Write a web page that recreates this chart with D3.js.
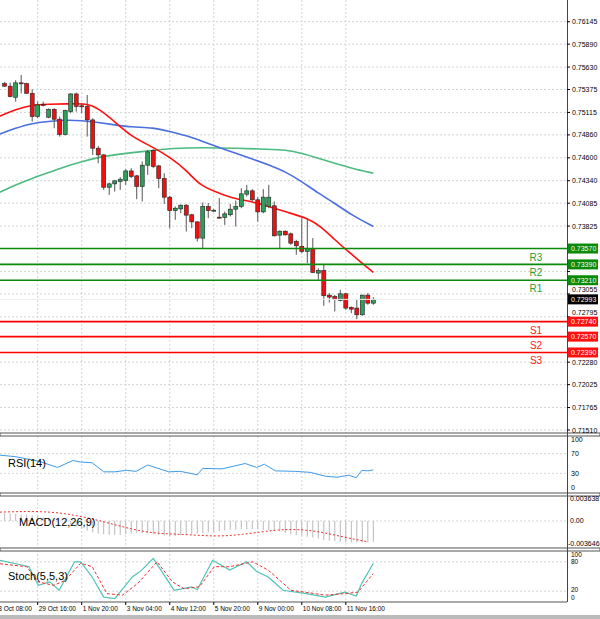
<!DOCTYPE html>
<html>
<head>
<meta charset="utf-8">
<script src="https://cdn.jsdelivr.net/npm/d3@7"></script>
<style>
body { margin: 0; background: #fff; }
text { font-family: "Liberation Sans", Arial, sans-serif; }
</style>
</head>
<body>
<svg id="canvas"></svg>
<script>
var width = 600,
	height = 619;

// candles, one per 4h bar
var opens  = [0.75443,0.75413,0.75287,0.75451,0.75443,0.75332,0.75068,0.75208,0.75061,0.75151,0.75038,0.74863,0.75125,0.75325,0.75190,0.75182,0.75030,0.74709,0.74633,0.74266,0.74304,0.74330,0.74342,0.74451,0.74395,0.74274,0.74516,0.74682,0.74508,0.74365,0.74153,0.74001,0.74020,0.74062,0.73953,0.73873,0.73688,0.74047,0.74001,0.73926,0.73922,0.73953,0.74017,0.74047,0.74187,0.74225,0.74123,0.73986,0.74047,0.74055,0.73722,0.73767,0.73737,0.73650,0.73594,0.73537,0.73571,0.73291,0.73321,0.73041,0.73026,0.72981,0.73056,0.72901,0.72894,0.72818,0.73041,0.72950];
var highs  = [0.75462,0.75451,0.75481,0.75540,0.75451,0.75378,0.75238,0.75238,0.75160,0.75162,0.75068,0.75145,0.75332,0.75340,0.75219,0.75313,0.75049,0.74735,0.74640,0.74319,0.74350,0.74380,0.74470,0.74482,0.74406,0.74557,0.74690,0.74697,0.74520,0.74425,0.74168,0.74047,0.74070,0.74077,0.73964,0.73877,0.74093,0.74085,0.74020,0.74142,0.73990,0.74077,0.74115,0.74255,0.74293,0.74244,0.74153,0.74244,0.74293,0.74104,0.73775,0.73775,0.73752,0.73669,0.73915,0.73915,0.73688,0.73347,0.73385,0.73064,0.73045,0.73101,0.73064,0.72913,0.72988,0.73045,0.73064,0.73018];
var lows   = [0.75405,0.75287,0.75238,0.75332,0.75328,0.75011,0.75049,0.75182,0.75050,0.74936,0.74841,0.74855,0.75106,0.75125,0.75106,0.74841,0.74633,0.74538,0.74236,0.74179,0.74217,0.74236,0.74293,0.74368,0.74130,0.74104,0.74406,0.74482,0.74255,0.74077,0.73801,0.73896,0.73971,0.73763,0.73801,0.73650,0.73574,0.73915,0.73990,0.73915,0.73839,0.73934,0.73820,0.74028,0.74160,0.74104,0.73877,0.73971,0.74028,0.73707,0.73574,0.73718,0.73612,0.73499,0.73518,0.73404,0.73291,0.73215,0.72920,0.72958,0.72856,0.72969,0.72875,0.72837,0.72769,0.72807,0.72932,0.72932];
var closes = [0.75413,0.75295,0.75451,0.75447,0.75332,0.75068,0.75200,0.75204,0.75151,0.75038,0.74863,0.75136,0.75325,0.75182,0.75185,0.75030,0.74709,0.74633,0.74266,0.74304,0.74338,0.74357,0.74451,0.74387,0.74274,0.74516,0.74667,0.74501,0.74365,0.74153,0.74001,0.74028,0.74062,0.73949,0.73873,0.73688,0.74047,0.74001,0.74005,0.73922,0.73964,0.74017,0.74047,0.74191,0.74225,0.74123,0.73986,0.74153,0.74153,0.73714,0.73767,0.73725,0.73631,0.73601,0.73537,0.73571,0.73298,0.73321,0.73034,0.73019,0.72996,0.73056,0.72894,0.72882,0.72818,0.73041,0.72950,0.72993];

// moving averages read at [bar, value]
var maFast = [[-1,0.75068],[2,0.75151],[5,0.75200],[8,0.75208],[11,0.75211],[15,0.75219],[17,0.75162],[20,0.75011],[23,0.74841],[27,0.74720],[30,0.74606],[33,0.74463],[35.5,0.74281],[39,0.74198],[42,0.74130],[45,0.74104],[48,0.74047],[51.5,0.73979],[55,0.73915],[57.5,0.73820],[60,0.73669],[62.4,0.73537],[65,0.73404],[67,0.73298]];
var maMid  = [[-1,0.74868],[2,0.74936],[5,0.74993],[8,0.75012],[11,0.75031],[14,0.75023],[17,0.75001],[20,0.74974],[23,0.74948],[27,0.74944],[30,0.74899],[33,0.74853],[36,0.74785],[39,0.74717],[42,0.74653],[45,0.74586],[48,0.74518],[51,0.74444],[54,0.74330],[57,0.74198],[60,0.74085],[63,0.73952],[67,0.73820]];
var maSlow = [[-1,0.74206],[2,0.74293],[5,0.74368],[8,0.74432],[11,0.74501],[14,0.74557],[17,0.74606],[20,0.74633],[23,0.74659],[27,0.74682],[30,0.74705],[33,0.74712],[36,0.74716],[42,0.74709],[48,0.74697],[51,0.74690],[54,0.74652],[57,0.74595],[60,0.74538],[63,0.74482],[67,0.74425]];

var levelNames  = ["R3","R2","R1","S1","S2","S3"];
var levelValues = [0.73570,0.73390,0.73210,0.72740,0.72570,0.72390];
var lastPrice = 0.72993;

var priceTicks = [0.76145,0.75890,0.75630,0.75375,0.75115,0.74860,0.74600,0.74340,0.74085,0.73825,0.73310,0.73055,0.72795,0.72280,0.72025,0.71765,0.71510];

var rsi = [[-0.85,67],[1.9,64],[6.1,55],[9.6,42],[12.4,56],[13.8,53],[15.9,51.5],[18,33],[20,33],[22.1,36],[23.9,34],[26,47],[29.8,33],[31.9,34],[35,27],[36,40],[39.5,39],[43.7,50],[45.8,42],[47.2,48.5],[49.2,35],[52.7,34],[55.5,32],[58.3,24],[60.4,22],[62.5,26],[63.9,21],[64.9,36],[66,35],[67,37]];

var macdMain = [0.0012,0.0012,0.0011,0.0010,0.0010,0.0009,0.0008,0.0006,0.0004,0.0002,0.0,-0.0003,-0.0006,-0.0009,-0.0012,-0.0015,-0.0018,-0.0020,-0.0021,-0.0022,-0.0022,-0.0022,-0.0021,-0.0020,-0.0019,-0.0019,-0.0020,-0.0021,-0.0022,-0.0023,-0.0024,-0.0024,-0.0023,-0.0022,-0.0021,-0.0020,-0.0019,-0.0018,-0.0017,-0.0016,-0.0015,-0.0014,-0.0014,-0.0013,-0.0013,-0.0013,-0.0013,-0.0014,-0.0015,-0.0016,-0.0017,-0.0019,-0.0021,-0.0022,-0.0023,-0.0025,-0.0026,-0.0028,-0.0030,-0.0031,-0.0032,-0.0033,-0.0034,-0.0034,-0.0034,-0.0034,-0.0034,-0.0033];
var macdSignal = [[-0.85,0.0014],[2.6,0.0015],[8.2,0.0015],[13.1,0.0009],[18,-0.0001],[22.1,-0.0011],[27,-0.0020],[32.6,-0.0021],[38.8,-0.0025],[43.7,-0.0021],[49.3,-0.0014],[52.7,-0.0013],[56.9,-0.0016],[61.8,-0.0026],[66,-0.0033]];

var stochMain = [[-0.85,83],[3.3,73],[4.4,70],[6.1,32],[8.2,39],[9.9,22],[12.7,80],[13.8,80],[15.9,49],[18,8],[20,5],[23.2,49],[24.9,63],[27,87],[28.4,63],[30.8,22],[34,29],[35,23],[37.8,83],[40.9,63],[44,80],[45.8,60],[47.9,49],[50.6,22],[54.8,15],[58.3,8],[61.8,18],[63.9,10],[64.9,36],[67,77]];
var stochSignal = [[-0.85,76],[4,70],[6.1,39],[8.9,32],[11,42],[13.8,77],[15.9,70],[18.6,15],[21.4,12],[24.2,36],[27.7,80],[30.5,39],[32.6,25],[35.4,29],[38.1,70],[40.9,70],[45.1,80],[47.9,63],[52,22],[58.3,12],[61.8,15],[64.2,18],[67,56]];

var dateTicks  = [-2,6,14,22,30,38,46,54,62];
var dateLabels = ["28 Oct 08:00","29 Oct 16:00","1 Nov 20:00","3 Nov 04:00","4 Nov 12:00","5 Nov 20:00","9 Nov 00:00","10 Nov 08:00","11 Nov 16:00"];

var svg = d3.select("#canvas")
		.attr("width", width)
		.attr("height", height);

var plotRight = 567;
var x = d3.scaleLinear().domain([-0.85, 102.2]).range([0, plotRight]);
var y = d3.scaleLinear().domain([0.71510, 0.76145]).range([430, 21.7]);
var yRsi = d3.scaleLinear().domain([0, 100]).range([488, 439]);
var yMacd = d3.scaleLinear().domain([-0.003646, 0.003638]).range([544, 498]);
var ySto = d3.scaleLinear().domain([0, 100]).range([601, 552]);

var panels = [[0, 433], [436, 493], [495, 548], [550, 602]];

// grid
var grid = svg.append("g")
	.attr("stroke", "#d4d4d4")
	.attr("stroke-dasharray", "2,2")
	.attr("stroke-width", 1);
panels.forEach(function(p){
	dateTicks.forEach(function(t){
		grid.append("line").attr("x1", x(t)).attr("x2", x(t)).attr("y1", p[0]).attr("y2", p[1]);
	});
});
priceTicks.forEach(function(t){
	grid.append("line").attr("x1", 0).attr("x2", plotRight).attr("y1", y(t)).attr("y2", y(t));
});
[30, 70].forEach(function(t){
	grid.append("line").attr("x1", 0).attr("x2", plotRight).attr("y1", yRsi(t)).attr("y2", yRsi(t));
});
[20, 80].forEach(function(t){
	grid.append("line").attr("x1", 0).attr("x2", plotRight).attr("y1", ySto(t)).attr("y2", ySto(t));
});
grid.append("line").attr("x1", 0).attr("x2", plotRight).attr("y1", yMacd(0)).attr("y2", yMacd(0));

// panel separators
[433, 493, 548].forEach(function(v){
	svg.append("rect").attr("x", 0).attr("y", v).attr("width", width).attr("height", 3).attr("fill", "#fff").attr("stroke", "#555").attr("stroke-width", 1);
});
svg.append("line").attr("x1", 0).attr("x2", plotRight).attr("y1", 602).attr("y2", 602).attr("stroke", "#555");
svg.append("line").attr("x1", plotRight + 0.5).attr("x2", plotRight + 0.5).attr("y1", 0).attr("y2", 602).attr("stroke", "#444");

// moving averages
var maLine = d3.line()
	.x(function(d){ return x(d[0]); })
	.y(function(d){ return y(d[1]); })
	.curve(d3.curveBasis);
[[maSlow, "#4cbb7f"], [maMid, "#4a6fe0"], [maFast, "#ff1010"]].forEach(function(m){
	svg.append("path").attr("d", maLine(m[0])).attr("fill", "none").attr("stroke", m[1]).attr("stroke-width", 1.6);
});

// candles
var candle = svg.selectAll("g.candle")
		.data(opens)
		.enter()
		.append("g");
candle.append("line")
	.attr("x1", function(d, i){ return x(i); })
	.attr("x2", function(d, i){ return x(i); })
	.attr("y1", function(d, i){ return y(highs[i]); })
	.attr("y2", function(d, i){ return y(lows[i]); })
	.attr("stroke", "#555");
candle.append("rect")
	.attr("x", function(d, i){ return x(i) - 2; })
	.attr("width", 4)
	.attr("y", function(d, i){ return y(Math.max(d, closes[i])); })
	.attr("height", function(d, i){ return Math.max(1, Math.abs(y(d) - y(closes[i]))); })
	.attr("fill", function(d, i){ return closes[i] >= d ? "#2e9e5b" : "#ee1111"; })
	.attr("stroke", "#222")
	.attr("stroke-width", 0.6);

// pivot levels
levelValues.forEach(function(v, i){
	var col = i < 3 ? "#0a8a0a" : "#ff0000";
	svg.append("line").attr("x1", 0).attr("x2", plotRight).attr("y1", y(v)).attr("y2", y(v)).attr("stroke", col).attr("stroke-width", 1.6);
	svg.append("text").attr("x", 536).attr("y", y(v) + 12).attr("text-anchor", "middle")
		.attr("font-size", 10).attr("fill", i < 3 ? "#2f9a2f" : "#ff2020").text(levelNames[i]);
});

// price axis
var shift = { "0.73310": -8, "0.73055": -4, "0.72795": -4 };
var axisText = svg.append("g").attr("font-size", 7).attr("fill", "#000");
priceTicks.forEach(function(t){
	var yy = y(t) + (shift[t.toFixed(5)] || 0);
	axisText.append("line").attr("x1", plotRight).attr("x2", plotRight + 3).attr("y1", y(t)).attr("y2", y(t)).attr("stroke", "#000");
	axisText.append("text").attr("x", 572).attr("y", yy + 2.5).text(t.toFixed(5));
});
function tag(v, col){
	svg.append("rect").attr("x", 568).attr("y", y(v) - 5).attr("width", 30).attr("height", 10).attr("fill", col);
	svg.append("text").attr("x", 571).attr("y", y(v) + 2.5).attr("font-size", 7).attr("fill", "#fff").text(v.toFixed(5));
}
svg.append("line").attr("x1", 0).attr("x2", plotRight).attr("y1", y(lastPrice)).attr("y2", y(lastPrice)).attr("stroke", "#eee");
levelValues.forEach(function(v, i){ tag(v, i < 3 ? "#0a8a0a" : "#ff1010"); });
tag(lastPrice, "#000");

// RSI
svg.append("path")
	.attr("d", d3.line().x(function(d){ return x(d[0]); }).y(function(d){ return yRsi(d[1]); })(rsi))
	.attr("fill", "none").attr("stroke", "#3d9be9").attr("stroke-width", 1);
svg.append("text").attr("x", 8).attr("y", 467).attr("font-size", 11).text("RSI(14)");
[100, 70, 30, 0].forEach(function(t){
	svg.append("text").attr("x", 571).attr("y", (t == 100 ? 442 : t == 0 ? 490 : yRsi(t) + 2.5)).attr("font-size", 7).text(t);
});

// MACD
svg.selectAll("line.macd")
	.data(macdMain)
	.enter()
	.append("line")
	.attr("x1", function(d, i){ return x(i); })
	.attr("x2", function(d, i){ return x(i); })
	.attr("y1", yMacd(0))
	.attr("y2", function(d){ return yMacd(d); })
	.attr("stroke", "#b8b8b8")
	.attr("stroke-width", 1);
svg.append("path")
	.attr("d", d3.line().x(function(d){ return x(d[0]); }).y(function(d){ return yMacd(d[1]); }).curve(d3.curveBasis)(macdSignal))
	.attr("fill", "none").attr("stroke", "#f03030").attr("stroke-width", 1).attr("stroke-dasharray", "2,2");
svg.append("text").attr("x", 19).attr("y", 526).attr("font-size", 11).text("MACD(12,26,9)");
svg.append("text").attr("x", 570).attr("y", 501).attr("font-size", 7).text("0.003638");
svg.append("text").attr("x", 570).attr("y", yMacd(0) + 2.5).attr("font-size", 7).text("0.00");
svg.append("text").attr("x", 568).attr("y", 546).attr("font-size", 7).text("-0.003646");

// Stoch
svg.append("path")
	.attr("d", d3.line().x(function(d){ return x(d[0]); }).y(function(d){ return ySto(d[1]); })(stochMain))
	.attr("fill", "none").attr("stroke", "#4fc4b4").attr("stroke-width", 1.2);
svg.append("path")
	.attr("d", d3.line().x(function(d){ return x(d[0]); }).y(function(d){ return ySto(d[1]); })(stochSignal))
	.attr("fill", "none").attr("stroke", "#f03030").attr("stroke-width", 1).attr("stroke-dasharray", "3,2");
svg.append("text").attr("x", 8).attr("y", 580).attr("font-size", 11).text("Stoch(5,5,3)");
[[100, 557], [80, 564], [20, 592], [0, 600]].forEach(function(t){
	svg.append("text").attr("x", 571).attr("y", t[1]).attr("font-size", 6.5).text(t[0]);
});

// date axis
dateTicks.forEach(function(t, i){
	svg.append("line").attr("x1", x(t)).attr("x2", x(t)).attr("y1", 602).attr("y2", 605).attr("stroke", "#000");
	svg.append("text").attr("x", x(t) + 1).attr("y", 611).attr("font-size", 6.5).text(dateLabels[i]);
});
svg.append("rect").attr("x", 0).attr("y", 615).attr("width", width).attr("height", 4).attr("fill", "#bbb");
</script>
</body>
</html>
